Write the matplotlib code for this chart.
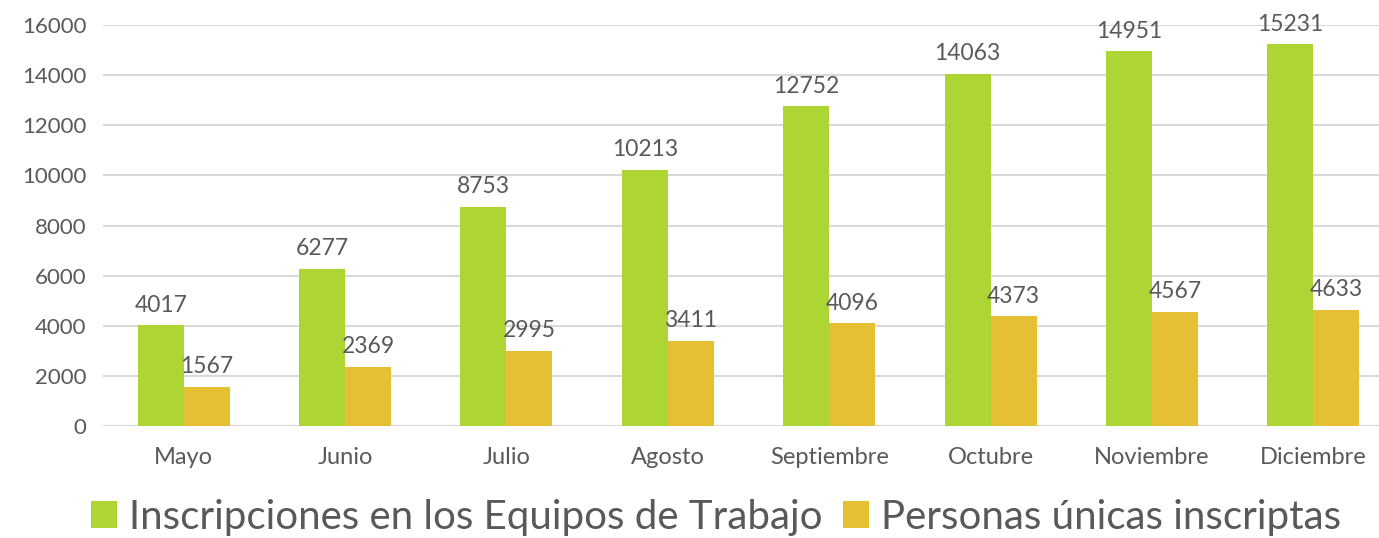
import numpy as np
import matplotlib.pyplot as plt

meses = ["Mayo", "Junio", "Julio", "Agosto", "Septiembre", "Octubre", "Noviembre", "Diciembre"]
inscripciones = [4017, 6277, 8753, 10213, 12752, 14063, 14951, 15231]
personas = [1567, 2369, 2995, 3411, 4096, 4373, 4567, 4633]

verde = "#ADD533"
amarillo = "#E5C035"
gris_txt = "#595959"

plt.rcParams['font.family'] = ['Lato', 'DejaVu Sans']

fig = plt.figure(figsize=(13.79, 5.38), dpi=100)
ax = fig.add_axes([103 / 1379, (538 - 426) / 538, (1394 - 103) / 1379, (426 - 25) / 538])

x = np.arange(len(meses))
w = 0.285
b1 = ax.bar(x - w / 2, inscripciones, w, color=verde, label="Inscripciones en los Equipos de Trabajo", zorder=2)
b2 = ax.bar(x + w / 2, personas, w, color=amarillo, label="Personas únicas inscriptas", zorder=2)

for bars in (b1, b2):
    for r in bars:
        ax.annotate(str(int(r.get_height())), (r.get_x() + r.get_width() / 2, r.get_height()),
                    xytext=(0, 7), textcoords="offset points", ha="center", va="bottom",
                    fontsize=16.5, color=gris_txt)

ax.set_xlim(-0.5, len(meses) - 0.5)
ax.set_ylim(0, 16000)
ax.set_yticks(range(0, 16001, 2000))
ax.set_xticks(x)
ax.set_xticklabels(meses)
ax.tick_params(axis="both", length=0, colors=gris_txt)
ax.tick_params(axis="x", pad=15, labelsize=17)
ax.tick_params(axis="y", pad=12, labelsize=16)
ax.grid(axis="y", color="#D9D9D9", linewidth=1.5, zorder=0)
for s in ax.spines.values():
    s.set_visible(False)

fig.legend(handles=[b1, b2], loc="center", bbox_to_anchor=(716 / 1379, 1 - 517 / 538), ncol=2,
           frameon=False, fontsize=29, labelcolor=gris_txt, handlelength=0.65, handleheight=0.65,
           handletextpad=0.3, columnspacing=0.5)

fig.savefig("out.png", dpi=100)
